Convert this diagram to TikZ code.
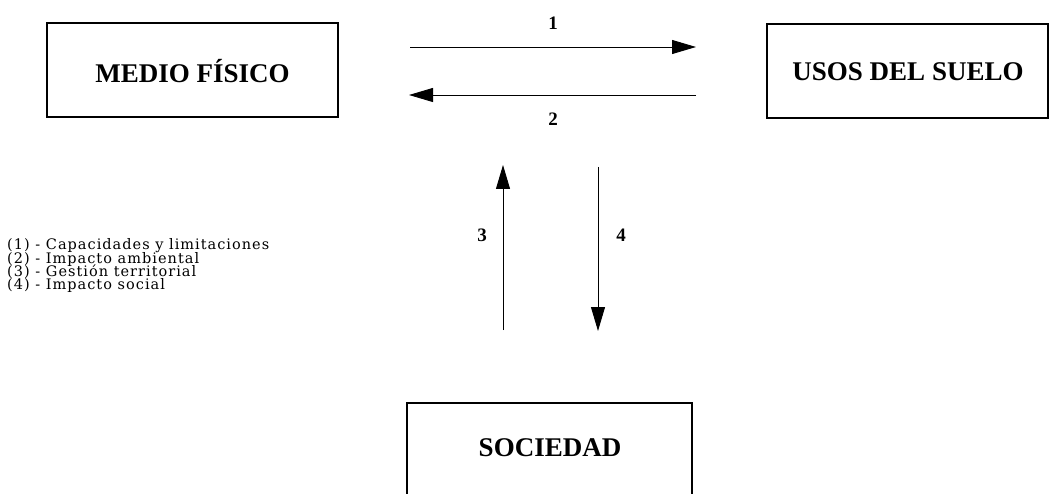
\documentclass[tikz,border=0pt]{standalone}
\usepackage{fontspec}
\setmainfont{Liberation Serif}
\newfontfamily\legfont[LetterSpace=7]{DejaVu Serif}
\newcommand\legsetup{\legfont\fontsize{14.5}{13.3}\selectfont\lineskiplimit=-100pt\relax}
\usetikzlibrary{arrows.meta}
\tikzset{
  boxline/.style={draw=black, line width=1.3pt},
  boxlabel/.style={font=\fontsize{27}{28}\selectfont\bfseries, inner sep=0pt},
  numlabel/.style={font=\fontsize{19}{20}\selectfont\bfseries, inner sep=0pt},
  flow/.style={line width=0.9pt, -{Triangle[length=24pt,width=14pt]}},
  legend/.style={font=\legsetup, align=left, inner sep=0pt, anchor=north west}
}
\begin{document}
\begin{tikzpicture}[x=1pt,y=-1pt]
\useasboundingbox (0,0) rectangle (1049,494);
% boxes
\draw[boxline] (47,23) rectangle (338,117);
\node[boxlabel] (medio) at (192.5,71) {MEDIO FÍSICO};
\draw[boxline] (767,24) rectangle (1048,118);
\node[boxlabel] (usos) at (908,72) {USOS DEL SUELO};
\draw[boxline] (407,498) -- (407,403) -- (692,403) -- (692,498);
\node[boxlabel] (soc) at (550,448) {SOCIEDAD};
% arrow endpoints
\coordinate (a1s) at (410,47);
\coordinate (a1e) at (696,47);
\coordinate (a2s) at (696,95);
\coordinate (a2e) at (409,95);
\coordinate (a3s) at (503,330);
\coordinate (a3e) at (503,165);
\coordinate (a4s) at (598,167);
\coordinate (a4e) at (598,331);
\draw[flow] (a1s) -- (a1e);
\draw[flow] (a2s) -- (a2e);
\draw[flow] (a3s) -- (a3e);
\draw[flow] (a4s) -- (a4e);
\node[numlabel] (n1) at (553,23) {1};
\node[numlabel] (n2) at (553,119) {2};
\node[numlabel] (n3) at (482,235) {3};
\node[numlabel] (n4) at (621,235) {4};
% legend
\node[legend] (leg) at (7,238.5) {(1) - Capacidades y limitaciones\\(2) - Impacto ambiental\\(3) - Gestión territorial\\(4) - Impacto social};
\end{tikzpicture}
\end{document}
